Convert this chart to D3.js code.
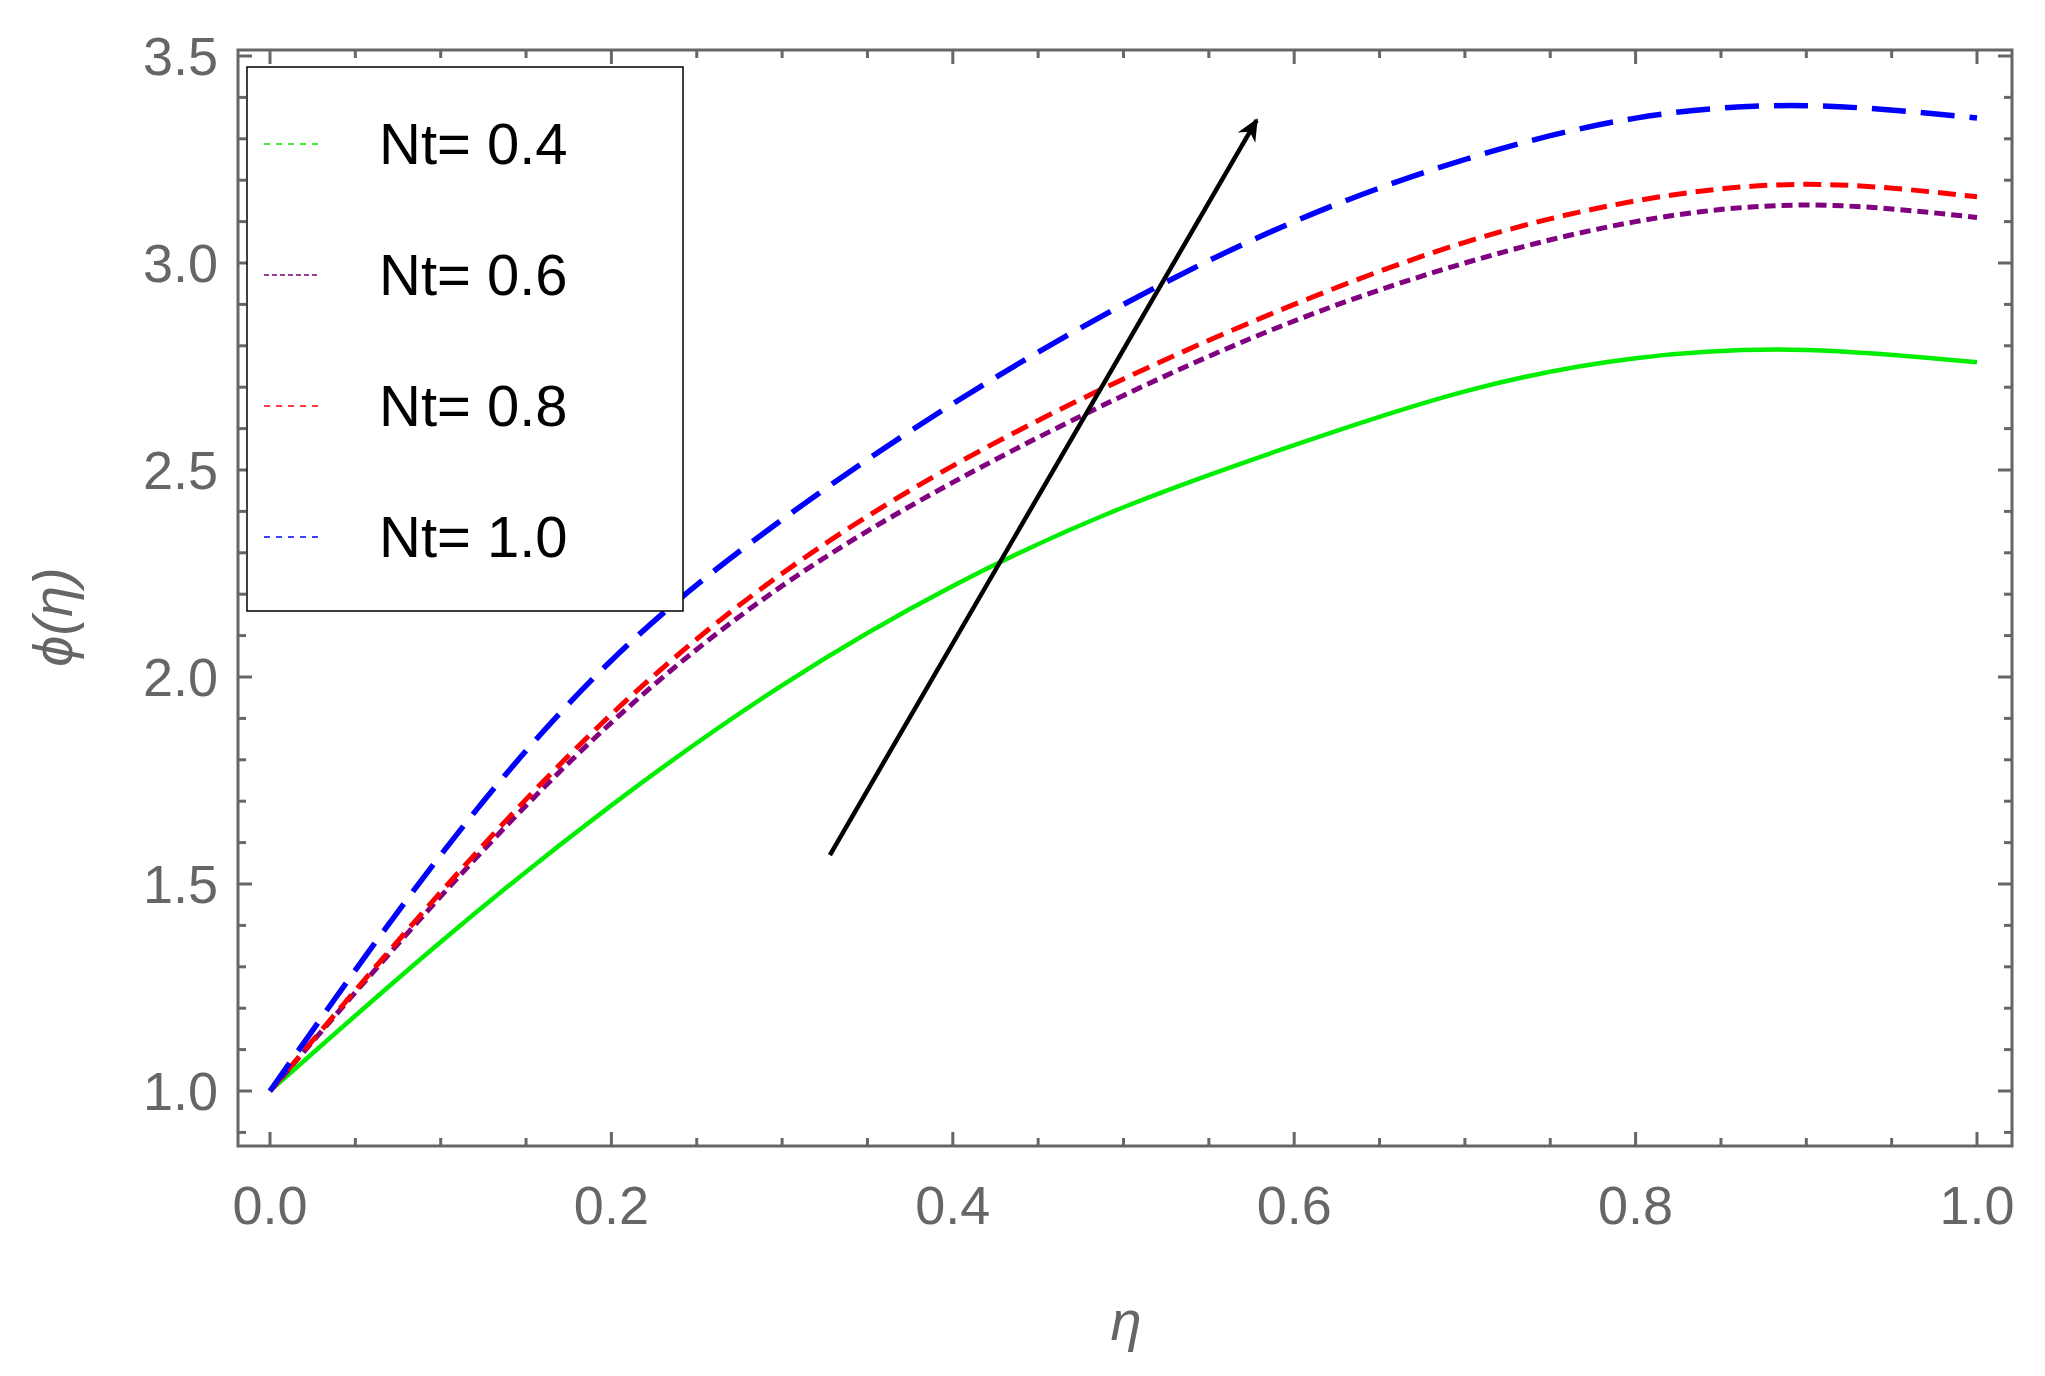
<!DOCTYPE html><html><head><meta charset="utf-8">
<script src="https://cdn.jsdelivr.net/npm/d3@7"></script>
<style>body{margin:0;background:#fff}</style></head><body>
<svg id="c" width="2045" height="1376"></svg>
<script>
const etas=[0,0.1,0.2,0.3,0.4,0.5,0.6,0.7,0.8,0.9,1.0];
const seriesNames=["Nt= 0.4","Nt= 0.6","Nt= 0.8","Nt= 1.0"];
const nt04=[1.0,1.36,1.69,1.98,2.22,2.41,2.56,2.69,2.77,2.79,2.76];
const nt06=[1.0,1.47,1.89,2.22,2.47,2.68,2.86,3.00,3.10,3.14,3.11];
const nt08=[1.0,1.48,1.91,2.25,2.51,2.72,2.90,3.05,3.15,3.19,3.16];
const nt10=[1.0,1.57,2.04,2.38,2.66,2.90,3.10,3.25,3.35,3.38,3.35];
const xTicks=[0,0.2,0.4,0.6,0.8,1.0];
const yTicks=[1.0,1.5,2.0,2.5,3.0,3.5];
const arrowPts=[[0.328,1.57],[0.578,3.345]];
const colors=["#00ee00","#800080","#ff0000","#0000ff"];
const dashes=[null,"11,6","18,9","34,15"];
const widths=[4.5,5,5,5.5];
const svg=d3.select("#c");
const L=238,R=2012,T=50,B=1146;
const x=d3.scaleLinear().domain([0,1]).range([270,1977]);
const y=d3.scaleLinear().domain([1,3.5]).range([1091,56]);
const gray="#666";
svg.append("rect").attr("x",L).attr("y",T).attr("width",R-L).attr("height",B-T).attr("fill","none").attr("stroke",gray).attr("stroke-width",3);
const xMinor=d3.range(0,1.0001,0.05), yMinor=d3.range(0.9,3.5001,0.1);
xMinor.forEach(v=>{const maj=Math.abs(v*5-Math.round(v*5))<1e-6;const l=maj?14:8;
 svg.append("line").attr("x1",x(v)).attr("x2",x(v)).attr("y1",B).attr("y2",B-l).attr("stroke",gray).attr("stroke-width",3);
 svg.append("line").attr("x1",x(v)).attr("x2",x(v)).attr("y1",T).attr("y2",T+l).attr("stroke",gray).attr("stroke-width",3);});
yMinor.forEach(v=>{const maj=Math.abs(v*2-Math.round(v*2))<1e-6;const l=maj?14:8;if(y(v)>B||y(v)<T)return;
 svg.append("line").attr("y1",y(v)).attr("y2",y(v)).attr("x1",L).attr("x2",L+l).attr("stroke",gray).attr("stroke-width",3);
 svg.append("line").attr("y1",y(v)).attr("y2",y(v)).attr("x1",R).attr("x2",R-l).attr("stroke",gray).attr("stroke-width",3);});
const ft="'Liberation Sans',Arial,sans-serif";
xTicks.forEach(v=>svg.append("text").attr("x",x(v)).attr("y",1224).attr("text-anchor","middle").attr("font-family",ft).attr("font-size",54).attr("fill",gray).text(v.toFixed(1)));
yTicks.forEach(v=>svg.append("text").attr("x",218).attr("y",y(v)+19).attr("text-anchor","end").attr("font-family",ft).attr("font-size",54).attr("fill",gray).text(v.toFixed(1)));
svg.append("text").attr("x",1126).attr("y",1340).attr("text-anchor","middle").attr("font-family",ft).attr("font-style","italic").attr("font-size",56).attr("fill",gray).text("η");
svg.append("text").attr("transform","translate(72,617) rotate(-90)").attr("text-anchor","middle").attr("font-family",ft).attr("font-style","italic").attr("font-size",56).attr("fill",gray).text("ϕ(η)");
const data=[nt04,nt06,nt08,nt10];
const line=d3.line().x((d,i)=>x(etas[i])).y(d=>y(d)).curve(d3.curveNatural);
data.forEach((s,k)=>svg.append("path").attr("d",line(s)).attr("fill","none").attr("stroke",colors[k]).attr("stroke-width",widths[k]).attr("stroke-dasharray",dashes[k]));
svg.append("defs").append("marker").attr("id","ah").attr("viewBox","0 0 10 10").attr("refX",9).attr("refY",5).attr("markerWidth",5).attr("markerHeight",5).attr("orient","auto").append("path").attr("d","M0,0.5L10,5L0,9.5L3,5Z").attr("fill","#000");
svg.append("line").attr("x1",x(arrowPts[0][0])).attr("y1",y(arrowPts[0][1])).attr("x2",x(arrowPts[1][0])).attr("y2",y(arrowPts[1][1])).attr("stroke","#000").attr("stroke-width",4.5).attr("marker-end","url(#ah)");
svg.append("rect").attr("x",247).attr("y",67).attr("width",436).attr("height",544).attr("fill","#fff").attr("stroke","#000").attr("stroke-width",1.5);
const legDash=["6,6","5,3","6,6","6,6"];
seriesNames.forEach((n,k)=>{const yy=144+k*131;
 svg.append("line").attr("x1",264).attr("x2",318).attr("y1",yy).attr("y2",yy).attr("stroke",colors[k]).attr("stroke-width",1.5).attr("stroke-dasharray",legDash[k]);
 svg.append("text").attr("x",379).attr("y",yy+20).attr("font-family",ft).attr("font-size",58).attr("fill","#000").text(n);});
</script></body></html>
